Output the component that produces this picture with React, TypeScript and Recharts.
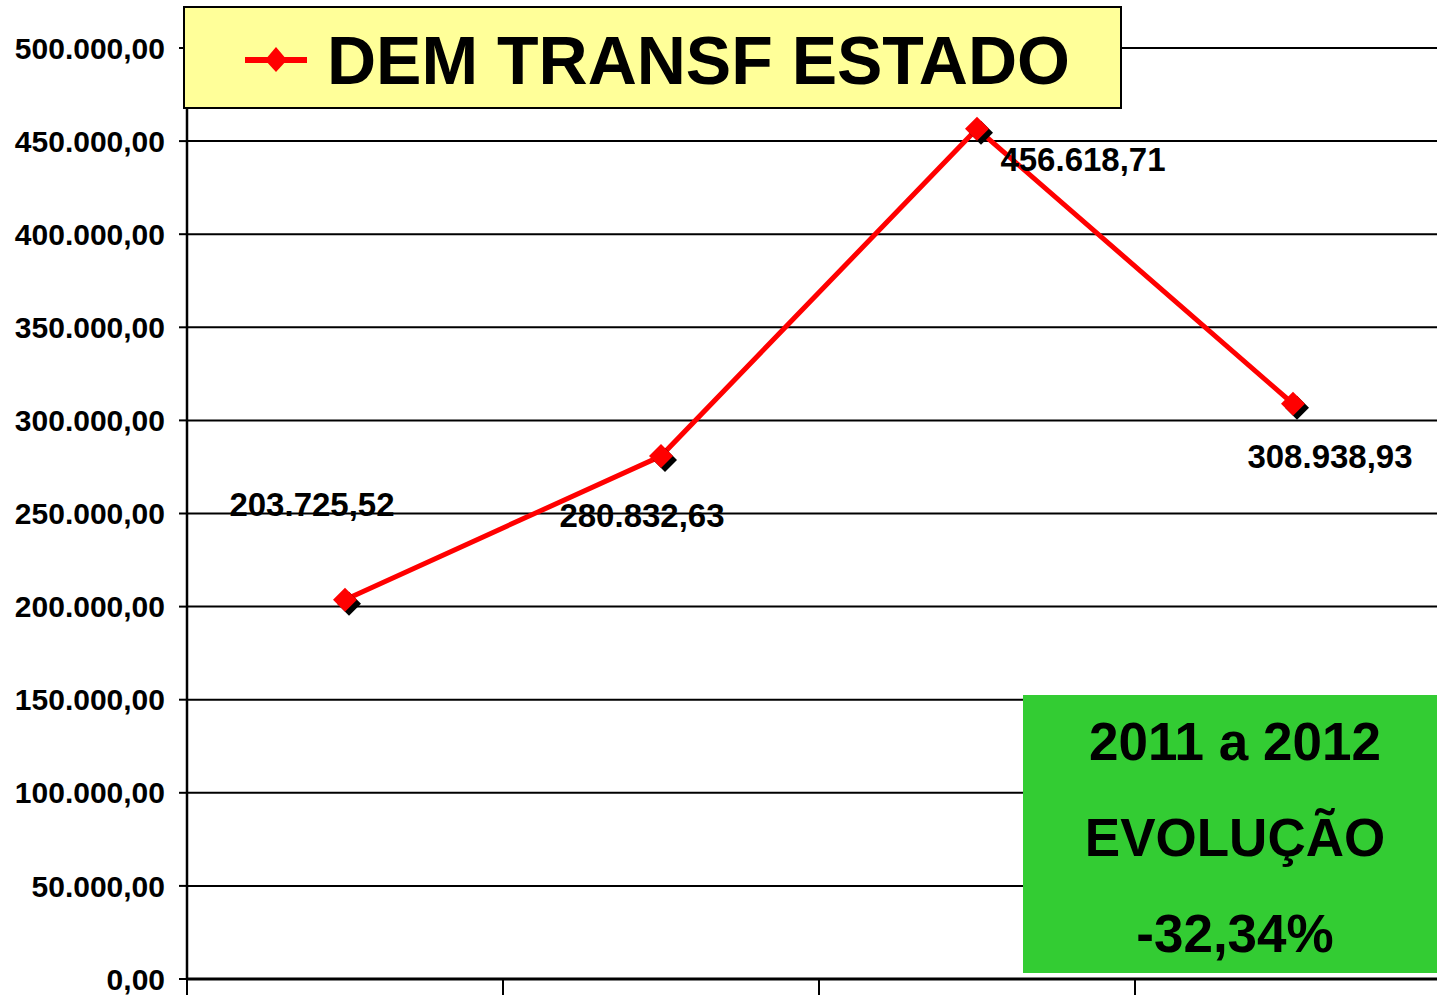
import React from "react";
import {
  LineChart,
  Line,
  XAxis,
  YAxis,
  CartesianGrid,
  LabelList,
} from "recharts";

// ---- data ----
const SERIES_NAME = "DEM TRANSF ESTADO";
const CATEGORY_INDEX = [0, 1, 2, 3];
const VALUES = [203725.52, 280832.63, 456618.71, 308938.93];
const Y_TICKS = [0, 50000, 100000, 150000, 200000, 250000, 300000, 350000, 400000, 450000, 500000];
const X_BOUNDARIES = [0, 1, 2, 3, 4];
const NOTE_LINES = ["2011 a 2012", "EVOLUÇÃO", "-32,34%"];

// ---- styling / placement (not data) ----
const FONT = '"Liberation Sans", Arial, Helvetica, sans-serif';
const LABEL_OFFSETS = [
  { dx: -33, dy: -95 },
  { dx: -19, dy: 59 },
  { dx: 106, dy: 31 },
  { dx: 37, dy: 53 },
];

const data = CATEGORY_INDEX.map((i) => ({ x: i + 0.5, value: VALUES[i] }));

const fmt = (v: number) => {
  const [i, d] = v.toFixed(2).split(".");
  return i.replace(/\B(?=(\d{3})+(?!\d))/g, ".") + "," + d;
};

const Diamond = (props: any) => {
  const { cx, cy } = props;
  if (cx == null || cy == null) return null;
  const r = 12;
  const s = 4;
  const pts = (x: number, y: number) =>
    `${x},${y - r} ${x + r},${y} ${x},${y + r} ${x - r},${y}`;
  return (
    <g>
      <polygon points={pts(cx + s, cy + s)} fill="#000" />
      <polygon points={pts(cx, cy)} fill="#FF0000" />
    </g>
  );
};

const DataLabel = (props: any) => {
  const { x, y, value, index } = props;
  const o = LABEL_OFFSETS[index] || { dx: 0, dy: -20 };
  return (
    <text
      x={x + o.dx}
      y={y + o.dy}
      textAnchor="middle"
      dominantBaseline="central"
      fontFamily={FONT}
      fontWeight="bold"
      fontSize={33}
      fill="#000"
    >
      {fmt(Number(value))}
    </text>
  );
};

const LegendBox = () => (
  <svg width={939} height={103} style={{ display: "block" }}>
    <rect x={1} y={1} width={937} height={101} fill="#FFFF99" stroke="#000" strokeWidth={2} />
    <line x1={62} y1={54} x2={124} y2={54} stroke="#FF0000" strokeWidth={6} />
    <polygon points="93,41 104,54 93,66 82,54" fill="#FF0000" />
    <text
      x={144}
      y={54}
      dominantBaseline="central"
      fontFamily={FONT}
      fontWeight="bold"
      fontSize={68}
      fill="#000"
    >
      {SERIES_NAME}
    </text>
  </svg>
);

export default function App() {
  return (
    <div
      style={{
        position: "absolute",
        left: 0,
        top: 0,
        width: 1437,
        height: 995,
        overflow: "hidden",
        background: "#fff",
      }}
    >
      <LineChart
        width={1451}
        height={995}
        data={data}
        margin={{ top: 48, right: 0, bottom: 0, left: 0 }}
      >
        <CartesianGrid vertical={false} stroke="#000" strokeWidth={2} />
        <XAxis
          dataKey="x"
          type="number"
          domain={[0, 4]}
          ticks={X_BOUNDARIES}
          interval={0}
          tickFormatter={() => ""}
          tickSize={16}
          height={16}
          axisLine={{ stroke: "#000", strokeWidth: 3 }}
          tickLine={{ stroke: "#000", strokeWidth: 2 }}
          allowDataOverflow
        />
        <YAxis
          type="number"
          domain={[0, 500000]}
          ticks={Y_TICKS}
          width={187}
          tickSize={8}
          tickMargin={14}
          interval={0}
          tickFormatter={fmt}
          axisLine={{ stroke: "#000", strokeWidth: 2.5 }}
          tickLine={{ stroke: "#000", strokeWidth: 2 }}
          tick={{ fill: "#000", fontSize: 30, fontWeight: "bold", fontFamily: FONT }}
        />
        <Line
          type="linear"
          dataKey="value"
          name={SERIES_NAME}
          stroke="#FF0000"
          strokeWidth={5}
          dot={<Diamond />}
          activeDot={false}
          isAnimationActive={false}
        >
          <LabelList dataKey="value" content={<DataLabel />} />
        </Line>
      </LineChart>
      <div style={{ position: "absolute", left: 183, top: 6, width: 939, height: 103 }}>
        <LegendBox />
      </div>
      <div
        style={{
          position: "absolute",
          left: 1023,
          top: 695,
          width: 430,
          height: 278,
          background: "#33CC33",
        }}
      >
        <svg width={430} height={278} style={{ display: "block" }}>
          {NOTE_LINES.map((t, i) => (
            <text
              key={i}
              x={212}
              y={46 + i * 96}
              textAnchor="middle"
              dominantBaseline="central"
              fontFamily={FONT}
              fontWeight="bold"
              fontSize={53}
              fill="#000"
            >
              {t}
            </text>
          ))}
        </svg>
      </div>
    </div>
  );
}
